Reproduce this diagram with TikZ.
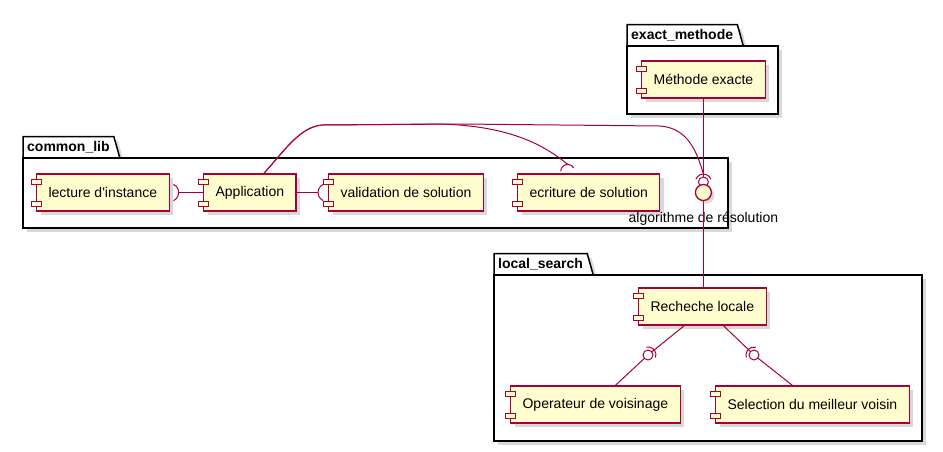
\documentclass[tikz,border=0pt]{standalone}
\usepackage{fontspec}
\setmainfont{Liberation Sans}
\usetikzlibrary{shadows,backgrounds}

\definecolor{umlred}{HTML}{A80036}
\definecolor{umlfill}{HTML}{FEFECE}

\tikzset{
	comp/.style={shape=rectangle, draw=umlred, fill=umlfill, line width=1.2pt,
		minimum height=37pt, inner xsep=12pt, inner ysep=0pt, anchor=west,
		font=\fontsize{14}{17}\selectfont,
		drop shadow={shadow xshift=4pt, shadow yshift=-4pt, opacity=.3}},
	icon/.style={draw=umlred, fill=umlfill, line width=1pt},
	pkgtab/.style={anchor=south west, inner xsep=4pt, inner ysep=0pt,
		minimum height=21pt, font=\fontsize{14}{17}\selectfont\bfseries},
	pkgline/.style={draw=black, fill=white, line width=1.5pt,
		drop shadow={shadow xshift=4pt, shadow yshift=-4pt, opacity=.3}},
	conn/.style={draw=umlred, line width=1pt},
	ifacelabel/.style={inner sep=0pt, font=\fontsize{14}{17}\selectfont}
}

\begin{document}
\begin{tikzpicture}[x=1pt, y=-1pt]
	\useasboundingbox (0,0) rectangle (943,451);
	
	% packages
	\node[pkgtab] (emtab) at (627,46)  {exact\_methode};
	\node[pkgtab] (cltab) at (23,158)  {common\_lib};
	\node[pkgtab] (lstab) at (494,275) {local\_search};
	\begin{scope}[on background layer]
		\foreach \t/\r/\b in {emtab/778/114, cltab/728/228, lstab/922/441} {
			\draw[pkgline] (\t.south west) -- (\t.north west) -- (\t.north east)
				-- ([xshift=6pt]\t.south east) -- cycle;
			\draw[pkgline] (\t.south west) rectangle (\r,\b);
		}
	\end{scope}
	
	% components
	\node[comp] (me)  at (641,79.5)  {Méthode exacte};
	\node[comp] (li)  at (36,192.5)  {lecture d\textquotesingle instance};
	\node[comp] (app) at (203,192.5) {Application};
	\node[comp] (vs)  at (328,192.5) {validation de solution};
	\node[comp] (es)  at (517,192.5) {ecriture de solution};
	\node[comp] (rl)  at (638,306.5) {Recheche locale};
	\node[comp] (op)  at (510,404.5) {Operateur de voisinage};
	\node[comp] (sm)  at (715,404.5) {Selection du meilleur voisin};
	
	\foreach \c in {me,li,app,vs,es,rl,op,sm} {
		\draw[icon] ([xshift=-5pt,yshift=8.5pt]\c.west) rectangle ++(10pt,5pt);
		\draw[icon] ([xshift=-5pt,yshift=-13.5pt]\c.west) rectangle ++(10pt,5pt);
	}
	
	% interface algorithme de resolution
	\coordinate (ball) at (me.south |- app.center);
	\coordinate (isock) at ([yshift=10.5pt]ball);
	\node[ifacelabel] (algo) at ([yshift=-26.5pt]ball) {algorithme de résolution};
	\path[conn] (me.south) edge (me.south |- rl.north);
	
	\coordinate (appout) at ([xshift=14pt]app.north);
	\coordinate (esock) at ([xshift=-21pt,yshift=2pt]es.north);
	\draw[conn] (appout) .. controls (285,150) and (300,127) .. (322,125)
		-- (460,124) -- (660,126) .. controls (688,128) and (697,152) .. ([yshift=8pt]isock);
	\draw[conn] (appout) .. controls (285,150) and (300,127) .. (322,125)
		-- (440,124) .. controls (512,126) and (545,146) .. ([yshift=7pt]esock);
	\draw[conn] (esock) ++(180:7) arc[start angle=180, end angle=330, radius=7];
	
	\draw[conn] (isock) ++(200:8) arc[start angle=200, end angle=340, radius=8];
	\draw[conn, fill=white] (isock) circle[radius=5];
	\draw[conn, fill=umlfill, line width=1.3pt,
		drop shadow={shadow xshift=3pt, shadow yshift=-3pt, opacity=.3}] (ball) circle[radius=8];
	
	% sockets in common_lib
	\coordinate (lisock) at (li.east);
	\coordinate (vssock) at ([xshift=-1pt]vs.west);
	\path[conn] ([xshift=9pt]lisock) edge (app.west);
	\draw[conn] (lisock) ++(-65:9) arc[start angle=-65, end angle=65, radius=9];
	\path[conn] (app.east) edge ([xshift=-9pt]vssock);
	\draw[conn] (vssock) ++(115:9) arc[start angle=115, end angle=245, radius=9];
	
	% lollipops in local_search
	\coordinate (ballop) at (648,355);
	\coordinate (ballsm) at (754,355);
	\draw[conn] ([xshift=-18pt]rl.south) -- (ballop) -- ([xshift=20pt]op.north);
	\draw[conn] ([xshift=21pt]rl.south) -- (ballsm) -- ([xshift=-20pt]sm.north);
	\draw[conn] (ballop) ++(-101:8) arc[start angle=-101, end angle=19, radius=8];
	\draw[conn] (ballsm) ++(-197:8) arc[start angle=-197, end angle=-77, radius=8];
	\draw[conn, fill=white] (ballop) circle[radius=5];
	\draw[conn, fill=white] (ballsm) circle[radius=5];
	
\end{tikzpicture}
\end{document}
